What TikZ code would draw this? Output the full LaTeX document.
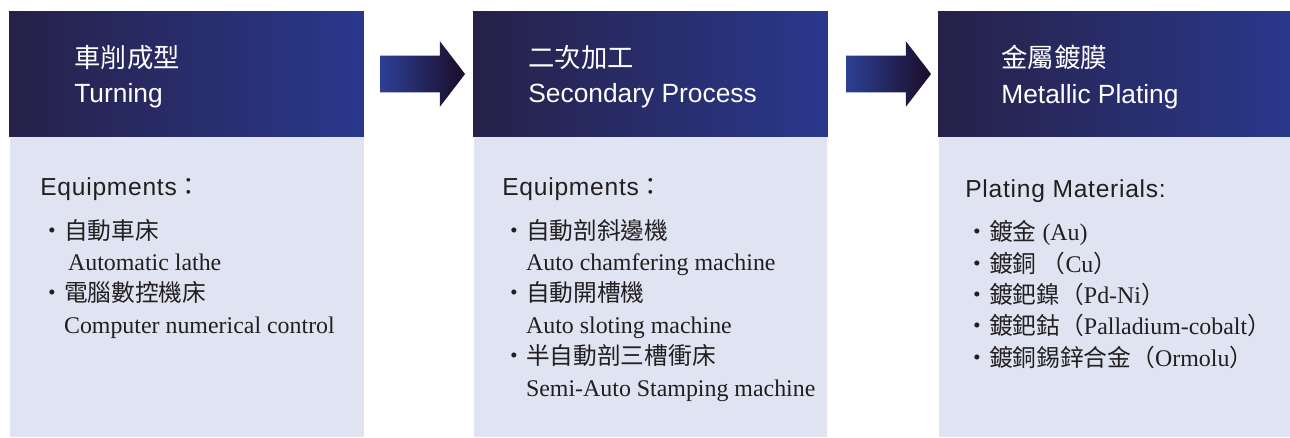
\documentclass[tikz,border=0pt]{standalone}
\usepackage{fontspec}
\usepackage{xcolor}
\setmainfont{Liberation Serif}
\setsansfont{Liberation Sans}
\newfontfamily\zh{Noto Sans CJK TC}
\newfontfamily\enwide{Liberation Sans}[LetterSpace=3]
\usetikzlibrary{shapes.arrows,positioning}

\definecolor{headleft}{RGB}{38,33,72}
\definecolor{headright}{RGB}{42,56,140}
\definecolor{bodyfill}{RGB}{223,227,242}
\definecolor{arrowleft}{RGB}{44,64,150}
\definecolor{arrowright}{RGB}{28,12,40}
\definecolor{ink}{RGB}{35,31,32}

\tikzset{
	head/.style={rectangle, left color=headleft, right color=headright,
		minimum width=7.1cm, minimum height=2.52cm, inner sep=0pt},
	headtext/.style={anchor=west, align=left, inner sep=0pt, text=white,
		font=\sffamily\fontsize{15}{20}\selectfont},
	body/.style={rectangle, fill=bodyfill, minimum width=7.08cm,
		minimum height=6cm, inner sep=0pt},
	bodytext/.style={anchor=north west, align=left, inner sep=0pt, text=ink,
		font=\fontsize{13.6}{17.9}\selectfont},
	flow/.style={single arrow, left color=arrowleft, right color=arrowright,
		inner xsep=0pt, inner ysep=0.36cm, minimum height=1.7cm,
		single arrow head extend=0.29cm, single arrow tip angle=105}
}
\newcommand{\zhb}{\zh\fontsize{13.5}{17.9}\selectfont}
\newcommand{\enb}{\enwide\fontsize{14}{17.9}\selectfont}
\newcommand{\ind}{\phantom{\zhb ・}}

\begin{document}
\begin{tikzpicture}[x=0.02cm, y=-0.02cm]
			\useasboundingbox (0,0) rectangle (1290,437);
			% panels
			\node[body] (b1) at (187,287) {};
			\node[body] (b2) at (650.5,287) {};
			\node[body] (b3) at (1115.5,287) {};
			\node[head] (h1) at (186.5,74) {};
			\node[head] (h2) at (650.5,74) {};
			\node[head] (h3) at (1115.5,74) {};
			% titles
			\node[headtext] (t1) at (74,77) {{\zh 車削成型}\\Turning};
			\node[headtext] (t2) at (528,77) {{\zh 二次加工}\\Secondary Process};
			\node[headtext] (t3) at (1001,77) {{\zh 金屬鍍膜}\\Metallic Plating};
			% arrows
			\node[flow] (a1) at (415.5,74) {};
			\node[flow] (a2) at (881.5,74) {};
			% lists
			\node[bodytext] (l1) at (40,177.5)
			{
				{\enb Equipments{\zh ：}}\\[6.8pt]
				{\zhb ・自動車床}\\
				\ind\,Automatic lathe\\
				{\zhb ・電腦數控機床}\\
				\ind Computer numerical control
			};
			\node[bodytext] (l2) at (502,177.5)
			{
				{\enb Equipments{\zh ：}}\\[6.8pt]
				{\zhb ・自動剖斜邊機}\\
				\ind Auto chamfering machine\\
				{\zhb ・自動開槽機}\\
				\ind Auto sloting machine\\
				{\zhb ・半自動剖三槽衝床}\\
				\ind Semi-Auto Stamping machine
			};
			\node[bodytext] (l3) at (965,179.5)
			{
				{\enb Plating Materials:}\\[6.5pt]
				{\zhb ・鍍金} (Au)\\
				{\zhb ・鍍銅 （}Cu{\zhb ）}\\
				{\zhb ・鍍鈀鎳（}Pd-Ni{\zhb ）}\\
				{\zhb ・鍍鈀鈷（}Palladium-cobalt{\zhb ）}\\
				{\zhb ・鍍銅錫鋅合金（}Ormolu{\zhb ）}
			};
		\end{tikzpicture}
\end{document}
